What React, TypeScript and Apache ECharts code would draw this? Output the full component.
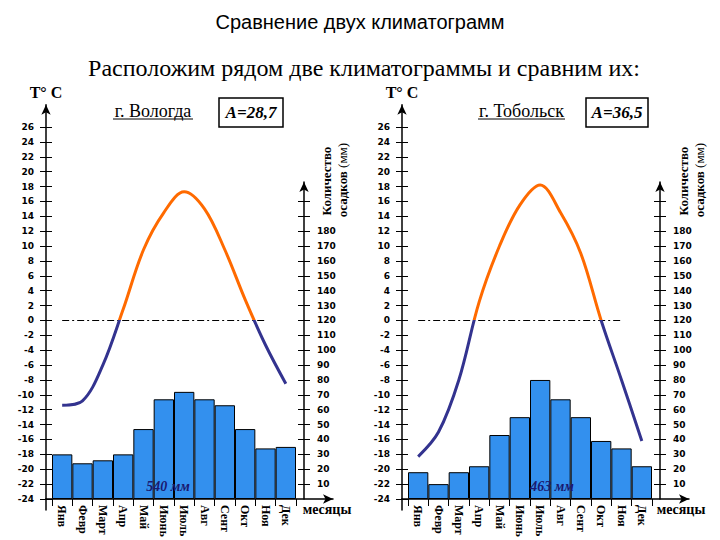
import React, { useEffect, useRef } from 'react';
import * as echarts from 'echarts';

// ---------- data ----------
const months = ['Янв', 'Февр', 'Март', 'Апр', 'Май', 'Июнь', 'Июль', 'Авг', 'Сент', 'Окт', 'Ноя', 'Дек'];

const tempVologda = [-11.4, -10.8, -6, 1.5, 9.5, 14.5, 17.3, 15, 9.5, 2.8, -3.3, -8.5];
const precipVologda = [30, 24, 26, 30, 47, 67, 72, 67, 63, 47, 34, 35];

const tempTobolsk = [-18.3, -15, -8, 2.5, 10, 15.5, 18.2, 14.5, 9, 0, -8, -16.2];
const precipTobolsk = [18, 10, 18, 22, 43, 55, 80, 67, 55, 39, 34, 22];

const tempTicks = [-24, -22, -20, -18, -16, -14, -12, -10, -8, -6, -4, -2, 0, 2, 4, 6, 8, 10, 12, 14, 16, 18, 20, 22, 24, 26];
const precipTicks = [10, 20, 30, 40, 50, 60, 70, 80, 90, 100, 110, 120, 130, 140, 150, 160, 170, 180, 190, 200];
const precipLabels = [10, 20, 30, 40, 50, 60, 70, 80, 90, 100, 110, 120, 130, 140, 150, 160, 170, 180];

const cities = ['г. Вологда', 'г. Тобольск'];
const amplitudes = ['A=28,7', 'A=36,5'];
const totals = ['540 мм', '463 мм'];

// ---------- layout / style ----------
const PANEL_DX = [0, 356];
const BOTTOM = 499;
const PX_PER_DEG = 7.44;
const T_MIN = -24;
const T_MAX = 29;
const P_MAX = 213;
const PX_PER_MM = PX_PER_DEG / 5;

const SERIF = '"Liberation Serif", "Times New Roman", serif';
const SANS = '"DejaVu Sans", Verdana, sans-serif';
const ORANGE = '#ff6a00';
const NAVY = '#33338f';
const BAR = '#3390ee';

function txt(x: number, y: number, text: string, font: string, extra: any = {}) {
  return {
    type: 'text',
    x,
    y,
    rotation: extra.rotation || 0,
    silent: true,
    z: 20,
    style: {
      text,
      x: 0,
      y: 0,
      font,
      fill: extra.fill || '#000',
      align: 'center',
      textAlign: 'center',
      verticalAlign: 'middle',
      textVerticalAlign: 'middle',
      rich: extra.rich,
    },
  };
}

function buildOption() {
  const grid: any[] = [];
  const xAxis: any[] = [];
  const yAxis: any[] = [];
  const series: any[] = [];

  const panels = [
    { temp: tempVologda, precip: precipVologda },
    { temp: tempTobolsk, precip: precipTobolsk },
  ];

  const tTop = BOTTOM - (T_MAX - T_MIN) * PX_PER_DEG;
  const pTop = BOTTOM - P_MAX * PX_PER_MM;
  const zeroFrac = (T_MAX - 0) / (T_MAX - T_MIN);

  const tickLabelStyle = { color: '#000', fontFamily: SANS, fontWeight: 'bold', fontSize: 9 };
  const arrowLine = () => ({
    show: true,
    lineStyle: { color: '#000', width: 1.5 },
    symbol: ['none', 'arrow'],
    symbolSize: [7, 10],
  });

  panels.forEach((p, i) => {
    const dx = PANEL_DX[i];
    const g0 = grid.length;
    grid.push({ left: 52 + dx, top: tTop, width: 244, height: BOTTOM - tTop });
    grid.push({ left: 52 + dx, top: pTop, width: 244, height: BOTTOM - pTop });
    grid.push({ left: 46 + dx, top: tTop, width: 287, height: BOTTOM - tTop });
    // short stub of the temperature axis below the month axis
    grid.push({ left: 46 + dx, top: BOTTOM, width: 10, height: 11 });

    const x0 = xAxis.length;
    xAxis.push({ type: 'category', gridIndex: g0, data: months, boundaryGap: true, show: false });
    xAxis.push({
      type: 'category',
      gridIndex: g0 + 1,
      data: months,
      boundaryGap: true,
      axisLine: { show: false },
      axisTick: { show: true, interval: 0, length: 7, lineStyle: { color: '#000', width: 1 } },
      axisLabel: {
        interval: 0,
        rotate: -90,
        margin: 6,
        color: '#000',
        fontFamily: SERIF,
        fontWeight: 'bold',
        fontSize: 12,
      },
      splitLine: { show: false },
    });
    xAxis.push({
      type: 'value',
      gridIndex: g0 + 2,
      min: 0,
      max: 1,
      axisLine: arrowLine(),
      axisTick: { show: false },
      axisLabel: { show: false },
      splitLine: { show: false },
    });
    xAxis.push({ type: 'value', gridIndex: g0 + 3, min: 0, max: 1, show: false });

    const y0 = yAxis.length;
    yAxis.push({
      type: 'value',
      gridIndex: g0,
      min: T_MIN,
      max: T_MAX,
      position: 'left',
      offset: 6,
      name: 'T° C',
      nameLocation: 'end',
      nameGap: 4,
      nameTextStyle: { fontFamily: SERIF, fontWeight: 'bold', fontSize: 16, color: '#000' },
      axisLine: arrowLine(),
      axisTick: { show: true, length: 6, customValues: tempTicks, lineStyle: { color: '#000' } },
      axisLabel: { customValues: tempTicks, margin: 12, ...tickLabelStyle },
      splitLine: { show: false },
    });
    yAxis.push({
      type: 'value',
      gridIndex: g0,
      min: T_MIN,
      max: T_MAX,
      position: 'left',
      offset: 6,
      axisLine: { show: false },
      axisTick: { show: true, inside: true, length: 6, customValues: tempTicks, lineStyle: { color: '#000' } },
      axisLabel: { show: false },
      splitLine: { show: false },
    });
    yAxis.push({
      type: 'value',
      gridIndex: g0 + 1,
      min: 0,
      max: P_MAX,
      position: 'right',
      offset: 8,
      axisLine: arrowLine(),
      axisTick: { show: true, length: 6, customValues: precipTicks, lineStyle: { color: '#000' } },
      axisLabel: { customValues: precipLabels, margin: 13, ...tickLabelStyle },
      splitLine: { show: false },
    });
    yAxis.push({
      type: 'value',
      gridIndex: g0 + 1,
      min: 0,
      max: P_MAX,
      position: 'right',
      offset: 8,
      axisLine: { show: false },
      axisTick: { show: true, inside: true, length: 6, customValues: precipTicks, lineStyle: { color: '#000' } },
      axisLabel: { show: false },
      splitLine: { show: false },
    });
    yAxis.push({ type: 'value', gridIndex: g0 + 2, min: 0, max: 1, show: false });
    yAxis.push({
      type: 'value',
      gridIndex: g0 + 3,
      min: 0,
      max: 1,
      position: 'left',
      axisLine: { show: true, lineStyle: { color: '#000', width: 1.5 } },
      axisTick: { show: false },
      axisLabel: { show: false },
      splitLine: { show: false },
    });

    series.push({
      type: 'bar',
      xAxisIndex: x0 + 1,
      yAxisIndex: y0 + 2,
      data: p.precip,
      barCategoryGap: '0%',
      itemStyle: { color: BAR, borderColor: '#000', borderWidth: 1 },
      z: 2,
      silent: true,
    });
    series.push({
      type: 'line',
      xAxisIndex: x0,
      yAxisIndex: y0,
      data: p.temp,
      smooth: 0.35,
      symbol: 'none',
      lineStyle: {
        width: 3,
        color: new echarts.graphic.LinearGradient(
          0,
          tTop,
          0,
          BOTTOM,
          [
            { offset: 0, color: ORANGE },
            { offset: zeroFrac, color: ORANGE },
            { offset: zeroFrac, color: NAVY },
            { offset: 1, color: NAVY },
          ],
          true
        ),
      },
      z: 5,
      silent: true,
      markLine: {
        silent: true,
        symbol: 'none',
        label: { show: false },
        lineStyle: { color: '#000', width: 1, type: [7, 3, 2, 3] },
        data: [[{ coord: [0, 0] }, { coord: [10, 0] }]],
      },
    });
  });

  const graphic: any[] = [
    txt(360, 22, 'Сравнение двух климатограмм', `20px "Liberation Sans", Arial, sans-serif`),
    txt(364, 68, 'Расположим рядом две климатограммы и сравним их:', `24px ${SERIF}`),
  ];

  const cityX = [153, 521.5];
  const cityW = [80, 87];
  const boxX = [219, 586];
  const boxW = [64, 62];
  const precipNameX = [326, 683];
  const monthsWordX = [327, 681];
  const totalX = [168, 552];

  [0, 1].forEach((i) => {
    graphic.push(txt(cityX[i], 111, cities[i], `18px ${SERIF}`));
    graphic.push({
      type: 'line',
      silent: true,
      shape: { x1: cityX[i] - cityW[i] / 2, y1: 119, x2: cityX[i] + cityW[i] / 2, y2: 119 },
      style: { stroke: '#000', lineWidth: 1 },
    });
    graphic.push({
      type: 'rect',
      silent: true,
      shape: { x: boxX[i], y: 98, width: boxW[i], height: 29 },
      style: { fill: 'none', stroke: '#000', lineWidth: 1.5 },
    });
    graphic.push(txt(boxX[i] + boxW[i] / 2, 112.5, amplitudes[i], `italic bold 17px ${SERIF}`));
    graphic.push(txt(precipNameX[i], 181, 'Количество', `bold 13px ${SERIF}`, { rotation: Math.PI / 2 }));
    graphic.push(
      txt(precipNameX[i] + 16, 180, '{b|осадков} {n|(мм)}', `bold 13px ${SERIF}`, {
        rotation: Math.PI / 2,
        rich: {
          b: { font: `bold 13px ${SERIF}`, fill: '#000' },
          n: { font: `13px ${SERIF}`, fill: '#000' },
        },
      })
    );
    graphic.push(txt(monthsWordX[i], 509, 'месяцы', `bold 14px ${SERIF}`));
    graphic.push(txt(totalX[i], 486, totals[i], `italic bold 14px ${SERIF}`, { fill: '#1a1a70' }));
  });

  return {
    animation: false,
    backgroundColor: '#fff',
    grid,
    xAxis,
    yAxis,
    series,
    graphic,
  };
}

export default function App() {
  const ref = useRef<HTMLDivElement>(null);
  useEffect(() => {
    if (!ref.current) return;
    const chart = echarts.init(ref.current, null, { renderer: 'svg' });
    chart.setOption(buildOption() as any);
    return () => chart.dispose();
  }, []);
  return (
    <div
      ref={ref}
      style={{ position: 'fixed', left: 0, top: 0, width: 720, height: 540, background: '#fff' }}
    />
  );
}
